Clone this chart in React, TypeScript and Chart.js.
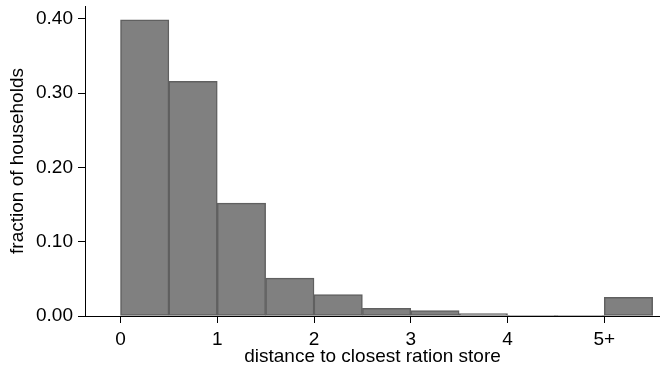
import React, { useEffect, useRef } from "react";
import { Chart, registerables } from "chart.js";

Chart.register(...registerables);

// Histogram bins (centre of each 0.5-wide bin) and fraction of households
const binCenters = [0.25, 0.75, 1.25, 1.75, 2.25, 2.75, 3.25, 3.75, 4.25, 4.75, 5.25];
const fractions = [0.399, 0.316, 0.152, 0.051, 0.029, 0.0102, 0.0072, 0.0031, 0.0008, 0.0003, 0.0252];

const xTickValues = [0, 1, 2, 3, 4, 5];
const xTickLabels = ["0", "1", "2", "3", "4", "5+"];
const yTickValues = [0, 0.1, 0.2, 0.3, 0.4];
const yTickLabels = ["0.00", "0.10", "0.20", "0.30", "0.40"];

const xTitle = "distance to closest ration store";
const yTitle = "fraction of households";

const FONT = "'Liberation Sans', Arial, Helvetica, sans-serif";

export default function App() {
  const ref = useRef<HTMLCanvasElement | null>(null);

  useEffect(() => {
    if (!ref.current) return;
    const chart = new Chart(ref.current, {
      type: "bar",
      data: {
        datasets: [
          {
            data: binCenters.map((x, i) => ({ x, y: fractions[i] })),
            backgroundColor: "#808080",
            borderColor: "#606060",
            borderWidth: 1.5,
            borderSkipped: false,
            barPercentage: 1,
            categoryPercentage: 1,
          },
        ],
      },
      options: {
        animation: false,
        responsive: false,
        devicePixelRatio: 1,
        layout: { padding: { top: 6, left: 0, right: 0, bottom: 0 } },
        plugins: { legend: { display: false }, tooltip: { enabled: false } },
        scales: {
          x: {
            type: "linear",
            min: -0.367,
            max: 5.576,
            offset: false,
            grid: {
              display: true,
              offset: false,
              drawOnChartArea: false,
              drawTicks: true,
              tickLength: 7,
              tickColor: "#000",
              tickWidth: 1,
            },
            border: { display: true, color: "#000", width: 1 },
            afterBuildTicks: (scale: any) => {
              scale.ticks = xTickValues.map((v) => ({ value: v }));
            },
            ticks: {
              color: "#000",
              font: { family: FONT, size: 19 },
              padding: 5,
              maxRotation: 0,
              autoSkip: false,
              callback: (_v: any, i: number) => xTickLabels[i],
            },
            title: {
              display: true,
              text: xTitle,
              color: "#000",
              font: { family: FONT, size: 19 },
              padding: { top: 0, bottom: 2 },
            },
            afterFit: (scale: any) => {
              scale.height = 54;
              scale.paddingLeft = 0;
              scale.paddingRight = 0;
              scale.paddingTop = 0;
              scale.paddingBottom = 0;
            },
          },
          y: {
            type: "linear",
            min: 0,
            max: 0.4175,
            grid: {
              display: true,
              drawOnChartArea: false,
              drawTicks: true,
              tickLength: 7,
              tickColor: "#000",
              tickWidth: 1,
            },
            border: { display: true, color: "#000", width: 1 },
            afterBuildTicks: (scale: any) => {
              scale.ticks = yTickValues.map((v) => ({ value: v }));
            },
            ticks: {
              color: "#000",
              font: { family: FONT, size: 19 },
              padding: 5,
              autoSkip: false,
              callback: (_v: any, i: number) => yTickLabels[i],
            },
            title: {
              display: true,
              text: yTitle,
              color: "#000",
              font: { family: FONT, size: 19 },
              padding: { top: 6, bottom: 0 },
            },
            afterFit: (scale: any) => {
              scale.width = 85;
              scale.paddingLeft = 0;
              scale.paddingRight = 0;
              scale.paddingTop = 0;
              scale.paddingBottom = 0;
            },
          },
        },
      },
    });
    return () => chart.destroy();
  }, []);

  return (
    <div style={{ position: "absolute", left: 0, top: 0, width: 660, height: 370, background: "#fff" }}>
      <canvas ref={ref} width={660} height={370} style={{ display: "block", width: 660, height: 370 }} />
    </div>
  );
}
